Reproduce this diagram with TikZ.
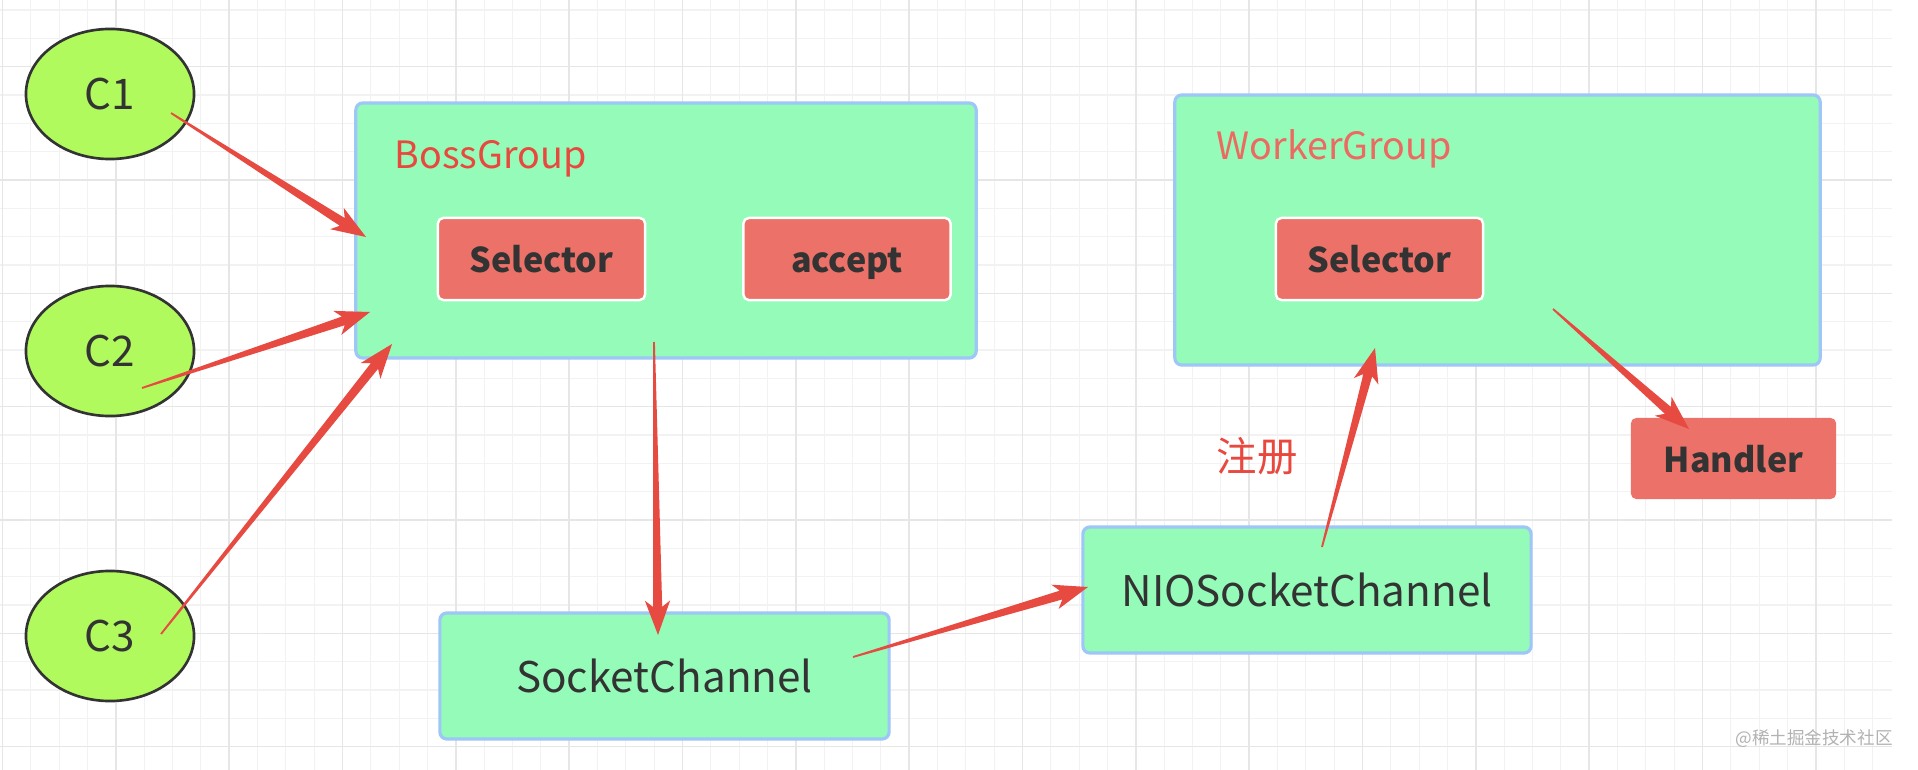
\documentclass[tikz,border=0pt]{standalone}
\usepackage{fontspec}
\setmainfont{Noto Sans CJK SC}
\usetikzlibrary{shapes.geometric, positioning, calc}

\definecolor{gridminor}{HTML}{F2F2F2}
\definecolor{gridmajor}{HTML}{E6E6E6}
\definecolor{lime}{HTML}{B1FA5E}
\definecolor{mint}{HTML}{94FBB8}
\definecolor{skyline}{HTML}{9EC6F7}
\definecolor{salmon}{HTML}{EC7168}
\definecolor{arrowred}{HTML}{E64A41}
\definecolor{labelred}{HTML}{E8483E}
\definecolor{softred}{HTML}{EC6A62}
\definecolor{inkdark}{HTML}{333333}

\newcommand\redarrow[2]{%
  \coordinate (hb) at ($(#2)!8pt!(#1)$);
  \coordinate (hw) at ($(#2)!9.8pt!(#1)$);
  \fill[arrowred] ($(#1)!0.25pt!90:(#2)$) -- ($(hb)!1.3pt!90:(#2)$)
    -- ($(hw)!3.6pt!90:(#2)$) -- (#2) -- ($(hw)!3.6pt!-90:(#2)$)
    -- ($(hb)!1.3pt!-90:(#2)$) -- ($(#1)!0.25pt!-90:(#2)$) -- cycle;
}

\begin{document}
\begin{tikzpicture}[
    x=0.01cm, y=-0.01cm,
    client/.style={ellipse, draw=inkdark, line width=0.75pt, fill=lime,
      minimum width=1.68cm, minimum height=1.3cm, text=inkdark,
      font=\fontsize{12}{14}\selectfont},
    group/.style={rectangle, rounded corners=2pt, draw=skyline,
      line width=0.9pt, fill=mint},
    channel/.style={group, minimum height=1.26cm, text=inkdark,
      font=\fontsize{12}{14}\selectfont},
    part/.style={rectangle, rounded corners=1.5pt, fill=salmon, draw=white,
      line width=0.7pt, minimum width=2.07cm, minimum height=0.82cm,
      text height=1em, text depth=0.22em, text=inkdark,
      font=\bfseries\fontsize{9.7}{12}\selectfont},
    grouplabel/.style={anchor=west, inner sep=0pt,
      font=\fontsize{10.7}{13}\selectfont}
]

\useasboundingbox (0,0) rectangle (1918,770);
\fill[white] (0,0) rectangle (1918,770);
\foreach \i in {0,...,66}
  \draw[gridminor, line width=0.3pt] ({2.5+28.333*\i},0) -- ++(0,770);
\foreach \j in {0,...,26}
  \draw[gridminor, line width=0.3pt] (0,{10+28.333*\j}) -- ++(1892,0);
\foreach \i in {0,...,16}
  \draw[gridmajor, line width=0.4pt] ({2.5+113.33*\i},0) -- ++(0,770);
\foreach \j in {0,...,6}
  \draw[gridmajor, line width=0.4pt] (0,{66.7+113.33*\j}) -- ++(1892,0);

\node[client] (C1) at (110,94) {C1};
\node[client] (C2) at (110,351) {C2};
\node[client] (C3) at (110,636) {C3};

\node[group, minimum width=6.2cm, minimum height=2.55cm] (boss) at (666,230.5) {};
\node[grouplabel, text=labelred] (bosslabel) at (394,159) {BossGroup};
\node[part] (bossselector) at (541.5,259) {Selector};
\node[part] (accept) at (847,259) {accept};

\node[group, minimum width=6.45cm, minimum height=2.7cm] (worker) at (1497.5,230) {};
\node[grouplabel, text=softred] (workerlabel) at (1216,149) {WorkerGroup};
\node[part] (workerselector) at (1379.5,259) {Selector};
\node[part, draw=none, minimum width=2.05cm, minimum height=0.81cm] (handler) at (1733.5,458.5) {Handler};

\node[text=labelred, font=\fontsize{11.5}{13}\selectfont] (register) at (1257,456) {注册};

\node[channel, minimum width=4.49cm] (socket) at (664.5,676) {SocketChannel};
\node[channel, minimum width=4.48cm] (nio) at (1307,590) {NIOSocketChannel};

\node[text=black!30, font=\fontsize{5}{6}\selectfont] (mark) at (1814,739) {@稀土掘金技术社区};

\coordinate (c1out) at (171,113);
\coordinate (c2out) at (142,388);
\coordinate (c3out) at (161,634);
\coordinate (bossin1) at (366,237);
\coordinate (bossin2) at (370,312);
\coordinate (bossin3) at (392,344);
\coordinate (bossout) at (654,342);
\coordinate (socketin) at (658,635);
\coordinate (socketout) at (853,657);
\coordinate (nioin) at (1088,587);
\coordinate (nioout) at (1322,547);
\coordinate (workerin) at (1375,348);
\coordinate (workerout) at (1553,309);
\coordinate (handlerin) at (1689,429);

\redarrow{c1out}{bossin1}
\redarrow{c2out}{bossin2}
\redarrow{c3out}{bossin3}
\redarrow{bossout}{socketin}
\redarrow{socketout}{nioin}
\redarrow{nioout}{workerin}
\redarrow{workerout}{handlerin}

\end{tikzpicture}
\end{document}
